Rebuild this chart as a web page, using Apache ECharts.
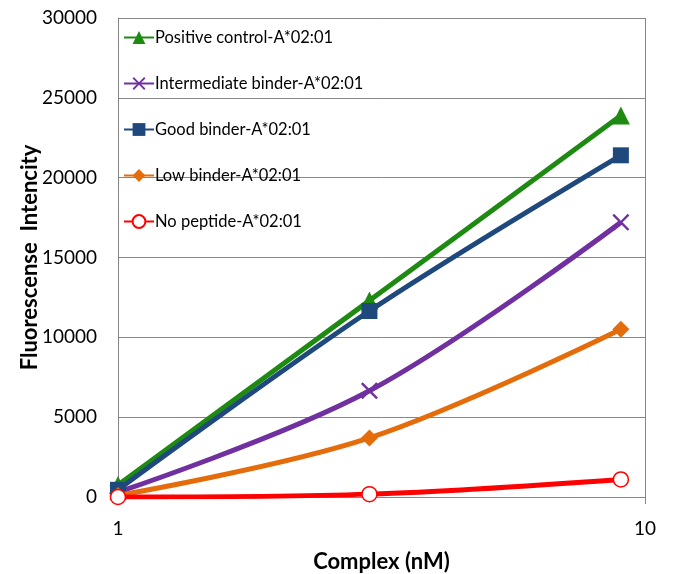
<!DOCTYPE html>
<html>
<head>
<meta charset="utf-8">
<script src="https://cdn.jsdelivr.net/npm/echarts@6/dist/echarts.min.js"></script>
<style>html,body{margin:0;padding:0;background:#fff}#c{width:673px;height:574px}</style>
</head>
<body>
<div id="c"></div>
<script>
const xValues = [1, 3, 9];
const seriesNames = ["Positive control-A*02:01", "Intermediate binder-A*02:01", "Good binder-A*02:01", "Low binder-A*02:01", "No peptide-A*02:01"];
const positiveControl = [750, 12300, 23900];
const intermediateBinder = [300, 6650, 17200];
const goodBinder = [450, 11650, 21400];
const lowBinder = [100, 3700, 10500];
const noPeptide = [0, 180, 1100];
const yTicks = [0, 5000, 10000, 15000, 20000, 25000, 30000];

const colors = ["#1F8A12", "#7030A0", "#1F497D", "#E46C0A", "#FF0000"];
const allValues = [positiveControl, intermediateBinder, goodBinder, lowBinder, noPeptide];
const symbols = ["triangle", "path://M0,1L1,0L5,4L9,0L10,1L6,5L10,9L9,10L5,6L1,10L0,9L4,5Z", "rect", "diamond", "circle"];
const sizes = [18, 17, 16, 17, 15];

const font = "Lato, 'Open Sans', sans-serif";
const chart = echarts.init(document.getElementById('c'));
chart.setOption({
  animation: false,
  backgroundColor: '#fff',
  grid: {left: 118, right: 28, top: 18, bottom: 77, containLabel: false, outerBoundsMode: 'none'},
  legend: {
    orient: 'vertical', left: 118, top: 24, itemGap: 29, itemWidth: 30, itemHeight: 16,
    textStyle: {fontFamily: font, fontSize: 16.5, color: '#000', padding: [0,0,0,-4]},
    data: seriesNames
  },
  xAxis: {
    type: 'log', logBase: 10, min: 1, max: 10,
    name: 'Complex (nM)', nameLocation: 'middle', nameGap: 54, nameMoveOverlap: false,
    nameTextStyle: {fontFamily: font, fontSize: 22, fontWeight: 'bold', color: '#000'},
    axisLine: {show: true, onZero: false, lineStyle: {color: '#868686', width: 1}},
    axisTick: {show: true, inside: false, length: 7, lineStyle: {color: '#868686'}},
    axisLabel: {fontFamily: font, fontSize: 19, color: '#000', margin: 22},
    splitLine: {show: true, lineStyle: {color: '#868686', width: 1}},
    minorTick: {show: false}
  },
  yAxis: {
    type: 'value', min: 0, max: 30000, interval: 5000,
    name: 'Fluorescense  Intencity', nameLocation: 'middle', nameGap: 77, nameMoveOverlap: false,
    nameTextStyle: {fontFamily: font, fontSize: 22, fontWeight: 'bold', color: '#000'},
    axisLine: {show: true, lineStyle: {color: '#868686', width: 1}},
    axisTick: {show: false},
    axisLabel: {fontFamily: font, fontSize: 19, color: '#000', margin: 21,
      formatter: v => yTicks.includes(v) ? String(v) : ''},
    splitLine: {show: true, lineStyle: {color: '#868686', width: 1}}
  },
  series: seriesNames.map((n, i) => ({
    name: n, type: 'line', smooth: 0.35,
    data: xValues.map((x, j) => [x, allValues[i][j]]),
    symbol: symbols[i], symbolSize: sizes[i], showAllSymbol: true,
    lineStyle: {color: colors[i], width: 5},
    itemStyle: i === 4 ? {color: '#fff', borderColor: colors[i], borderWidth: 1.5} : {color: colors[i]},
    z: 2 + i
  }))
});
</script>
</body>
</html>
